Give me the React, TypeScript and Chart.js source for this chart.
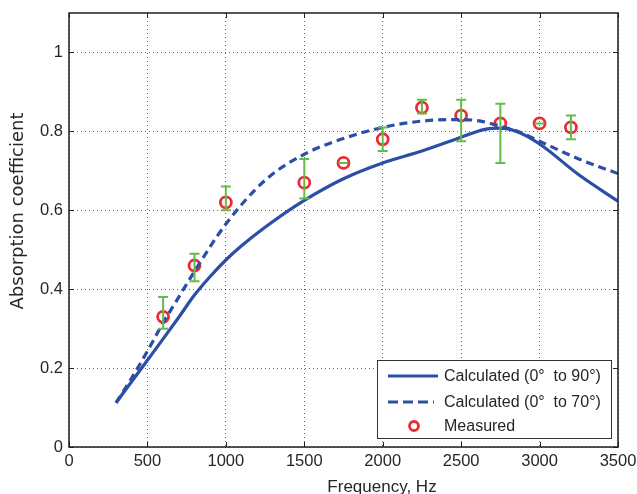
import React, { useEffect, useRef } from "react";
import { Chart, registerables } from "chart.js";

Chart.register(...registerables);

// ---- data ----
const calc90Freq = [300, 400, 500, 600, 700, 800, 900, 1000, 1100, 1250, 1500, 1750, 2000, 2250, 2500, 2650, 2750, 2850, 3000, 3250, 3500];
const calc90 = [0.112, 0.166, 0.22, 0.274, 0.329, 0.385, 0.432, 0.474, 0.51, 0.557, 0.625, 0.68, 0.72, 0.75, 0.785, 0.805, 0.808, 0.8, 0.768, 0.69, 0.623];

const calc70Freq = [300, 400, 500, 600, 700, 800, 1000, 1250, 1500, 1750, 2000, 2250, 2500, 2625, 2750, 2875, 3000, 3250, 3500];
const calc70 = [0.112, 0.175, 0.243, 0.315, 0.38, 0.445, 0.565, 0.676, 0.742, 0.782, 0.81, 0.826, 0.83, 0.826, 0.813, 0.798, 0.775, 0.73, 0.693];

const measFreq = [600, 800, 1000, 1500, 1750, 2000, 2250, 2500, 2750, 3000, 3200];
const measVal = [0.33, 0.46, 0.62, 0.67, 0.72, 0.78, 0.86, 0.84, 0.82, 0.82, 0.81];
const measLow = [0.3, 0.42, 0.6, 0.63, 0.72, 0.75, 0.845, 0.775, 0.72, 0.82, 0.78];
const measHigh = [0.38, 0.49, 0.66, 0.73, 0.72, 0.81, 0.88, 0.88, 0.87, 0.82, 0.84];

const xTickStep = 500;
const yTickStep = 0.2;

const labels = ["Calculated (0°  to 90°)", "Calculated (0°  to 70°)", "Measured"];

const BLUE = "#2c4ea6";
const RED = "#ee2a35";
const GREEN = "#62bd48";
const TEXT = "#262626";
const SANS = "'Liberation Sans', Arial, Helvetica, sans-serif";

const errorBarPlugin = {
  id: "errorBars",
  afterDatasetsDraw(chart: any) {
    const { ctx, scales } = chart;
    const x = scales.x;
    const y = scales.y;
    ctx.save();
    ctx.strokeStyle = GREEN;
    ctx.lineWidth = 2;
    const cap = 5;
    measFreq.forEach((f, i) => {
      const px = x.getPixelForValue(f);
      const lo = y.getPixelForValue(measLow[i]);
      const hi = y.getPixelForValue(measHigh[i]);
      ctx.beginPath();
      ctx.moveTo(px, lo);
      ctx.lineTo(px, hi);
      ctx.moveTo(px - cap, lo);
      ctx.lineTo(px + cap, lo);
      ctx.moveTo(px - cap, hi);
      ctx.lineTo(px + cap, hi);
      ctx.stroke();
    });
    ctx.restore();
  },
};

const framePlugin = {
  id: "frameAndLegend",
  afterDraw(chart: any) {
    const { ctx, chartArea: a, scales } = chart;
    const x = scales.x;
    const y = scales.y;
    ctx.save();
    // ticks inward on all sides
    ctx.strokeStyle = "#222";
    ctx.lineWidth = 1;
    ctx.beginPath();
    x.ticks.forEach((t: any) => {
      const px = Math.round(x.getPixelForValue(t.value)) + 0.5;
      ctx.moveTo(px, a.bottom);
      ctx.lineTo(px, a.bottom - 5);
      ctx.moveTo(px, a.top);
      ctx.lineTo(px, a.top + 5);
    });
    y.ticks.forEach((t: any) => {
      const py = Math.round(y.getPixelForValue(t.value)) + 0.5;
      ctx.moveTo(a.left, py);
      ctx.lineTo(a.left + 5, py);
      ctx.moveTo(a.right, py);
      ctx.lineTo(a.right - 5, py);
    });
    ctx.stroke();
    // frame
    ctx.lineWidth = 1.5;
    ctx.strokeStyle = "#1e1e1e";
    ctx.strokeRect(a.left, a.top, a.right - a.left, a.bottom - a.top);

    // axis titles
    ctx.fillStyle = TEXT;
    ctx.font = `17px ${SANS}`;
    ctx.textAlign = "center";
    ctx.textBaseline = "alphabetic";
    ctx.fillText("Frequency, Hz", 382, 492);

    ctx.save();
    ctx.translate(18, 211);
    ctx.rotate(-Math.PI / 2);
    ctx.font = "18px 'DejaVu Sans', Verdana, sans-serif";
    ctx.textBaseline = "middle";
    ctx.fillText("Absorption coefficient", 0, 0);
    ctx.restore();

    // legend
    const bx = a.right - 241;
    const by = a.bottom - 87;
    const bw = 234;
    const bh = 78;
    ctx.fillStyle = "#ffffff";
    ctx.fillRect(bx, by, bw, bh);
    ctx.strokeStyle = "#333";
    ctx.lineWidth = 1;
    ctx.strokeRect(bx + 0.5, by + 0.5, bw, bh);

    const rows = [by + 16, by + 42, by + 66];
    const ds = chart.data.datasets;
    // row 1 solid
    ctx.strokeStyle = ds[0].borderColor;
    ctx.lineWidth = 3;
    ctx.setLineDash([]);
    ctx.beginPath();
    ctx.moveTo(bx + 11, rows[0]);
    ctx.lineTo(bx + 61, rows[0]);
    ctx.stroke();
    // row 2 dashed
    ctx.strokeStyle = ds[1].borderColor;
    ctx.setLineDash([10, 5]);
    ctx.beginPath();
    ctx.moveTo(bx + 11, rows[1]);
    ctx.lineTo(bx + 57, rows[1]);
    ctx.stroke();
    ctx.setLineDash([]);
    // row 3 circle
    ctx.strokeStyle = ds[2].borderColor;
    ctx.lineWidth = 2.8;
    ctx.beginPath();
    ctx.arc(bx + 37, rows[2], 4.5, 0, Math.PI * 2);
    ctx.stroke();

    ctx.fillStyle = TEXT;
    ctx.font = `16px ${SANS}`;
    ctx.textAlign = "left";
    ctx.textBaseline = "middle";
    ds.forEach((d: any, i: number) => {
      ctx.fillText(d.label, bx + 67, rows[i] + 1);
    });
    ctx.restore();
  },
};

export default function App() {
  const canvasRef = useRef<HTMLCanvasElement | null>(null);

  useEffect(() => {
    if (!canvasRef.current) return;
    const chart = new Chart(canvasRef.current, {
      type: "scatter",
      data: {
        datasets: [
          {
            label: labels[0],
            data: calc90Freq.map((f, i) => ({ x: f, y: calc90[i] })),
            showLine: true,
            borderColor: BLUE,
            borderWidth: 3.2,
            pointRadius: 0,
            cubicInterpolationMode: "monotone",
            fill: false,
          },
          {
            label: labels[1],
            data: calc70Freq.map((f, i) => ({ x: f, y: calc70[i] })),
            showLine: true,
            borderColor: BLUE,
            borderWidth: 3.2,
            borderDash: [8, 5],
            pointRadius: 0,
            cubicInterpolationMode: "monotone",
            fill: false,
          },
          {
            label: labels[2],
            data: measFreq.map((f, i) => ({ x: f, y: measVal[i] })),
            showLine: false,
            borderColor: RED,
            backgroundColor: "rgba(0,0,0,0)",
            pointBorderWidth: 2.8,
            pointRadius: 5.5,
            pointStyle: "circle",
          },
        ],
      },
      options: {
        animation: false,
        responsive: true,
        maintainAspectRatio: false,
        layout: { padding: { top: 13, right: 19, left: 0, bottom: 0 } },
        plugins: {
          legend: { display: false },
          tooltip: { enabled: false },
        },
        scales: {
          x: {
            type: "linear",
            min: 0,
            max: 3500,
            afterFit: (s: any) => {
              s.height = 47;
              s.paddingLeft = 0;
              s.paddingRight = 0;
              s.paddingTop = 0;
              s.paddingBottom = 0;
            },
            ticks: {
              stepSize: xTickStep,
              color: TEXT,
              font: { family: SANS, size: 16.5 },
              padding: 5,
              maxRotation: 0,
              callback: (v: any) => String(v),
            },
            grid: {
              color: "rgba(0,0,0,0.6)",
              lineWidth: 1,
              drawTicks: false,
            },
            border: { display: false, dash: [1, 3] },
          },
          y: {
            type: "linear",
            min: 0,
            max: 1.1,
            afterFit: (s: any) => {
              s.width = 69;
              s.paddingLeft = 0;
              s.paddingRight = 0;
              s.paddingTop = 0;
              s.paddingBottom = 0;
            },
            afterBuildTicks: (s: any) => {
              s.ticks = s.ticks.filter((t: any) => t.value <= 1.0001);
            },
            ticks: {
              stepSize: yTickStep,
              color: TEXT,
              font: { family: SANS, size: 16.5 },
              padding: 6,
              callback: (v: any) => String(parseFloat(Number(v).toFixed(2))),
            },
            grid: {
              color: "rgba(0,0,0,0.6)",
              lineWidth: 1,
              drawTicks: false,
            },
            border: { display: false, dash: [1, 3] },
          },
        },
      },
      plugins: [errorBarPlugin, framePlugin],
    });
    return () => chart.destroy();
  }, []);

  return (
    <div style={{ position: "absolute", left: 0, top: 0, width: 637, height: 494, background: "#fff" }}>
      <canvas ref={canvasRef} />
    </div>
  );
}
